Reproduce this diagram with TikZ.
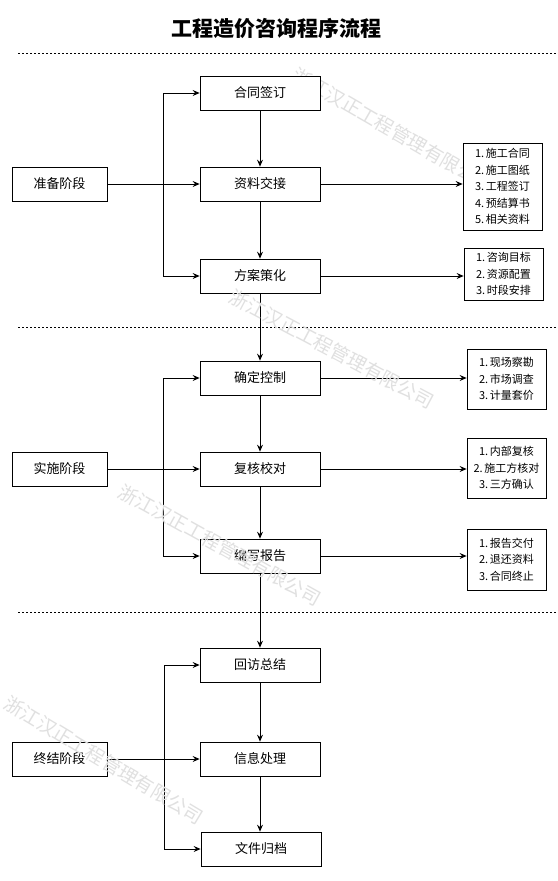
\documentclass[tikz,border=0pt]{standalone}
\usepackage{fontspec}
\setmainfont{Noto Sans CJK SC}
\usetikzlibrary{arrows.meta}
\begin{document}
\begin{tikzpicture}[x=1pt,y=-1pt,
  mainbox/.style={draw,line width=0.8pt,fill=white,minimum width=120pt,minimum height=34pt,inner sep=0pt,font=\fontsize{13}{15}\selectfont},
  stagebox/.style={draw,line width=0.8pt,fill=white,minimum width=95pt,minimum height=34pt,inner sep=0pt,font=\fontsize{13}{15}\selectfont},
  detailbox/.style={draw,line width=0.8pt,fill=white,minimum width=79pt,inner sep=0pt,align=center,font=\fontsize{11}{16.5}\selectfont},
  arr/.style={draw,line width=0.8pt,-{Stealth[length=7pt,width=6pt,inset=2.5pt]}},
  sepline/.style={line width=0.7pt,dash pattern=on 2pt off 2pt},
  wm/.style={text=gray!24,font=\fontsize{19}{19}\selectfont,inner sep=0pt}
]
\useasboundingbox (0,0) rectangle (557,881);
\fill[white] (0,0) rectangle (557,881);

% title
\node[font=\fontsize{21}{24}\selectfont\bfseries] (title) at (276,29) {工程造价咨询程序流程};

% separators
\draw[sepline] (18,53) -- (557,53);
\draw[sepline] (18,327) -- (557,327);
\draw[sepline] (18,612) -- (557,612);

% watermark hidden partly behind the first list box
\node[wm,rotate=-30] (w1) at (393,130) {浙江汉正工程管理有限公司};

% main column
\node[mainbox] (m1) at (260,93) {合同签订};
\node[mainbox] (m2) at (260,184) {资料交接};
\node[mainbox] (m3) at (260,276) {方案策化};
\node[mainbox] (m4) at (260,378) {确定控制};
\node[mainbox] (m5) at (260,469) {复核校对};
\node[mainbox] (m6) at (260,556) {编写报告};
\node[mainbox] (m7) at (260,665) {回访总结};
\node[mainbox] (m8) at (260,759) {信息处理};
\node[mainbox] (m9) at (261,849) {文件归档};

% stage boxes
\node[stagebox] (s1) at (59.5,184) {准备阶段};
\node[stagebox] (s2) at (59.5,469) {实施阶段};
\node[stagebox] (s3) at (59.5,759) {终结阶段};

% detail boxes
\node[detailbox,minimum height=87pt] (d1) at (502.5,186.5) {1.\,施工合同\\2.\,施工图纸\\3.\,工程签订\\4.\,预结算书\\5.\,相关资料};
\node[detailbox,minimum height=52pt] (d2) at (503.5,274) {1.\,咨询目标\\2.\,资源配置\\3.\,时段安排};
\node[detailbox,minimum height=60pt] (d3) at (506.5,379) {1.\,现场察勘\\2.\,市场调查\\3.\,计量套价};
\node[detailbox,minimum height=60pt] (d4) at (506.5,468) {1.\,内部复核\\2.\,施工方核对\\3.\,三方确认};
\node[detailbox,minimum height=61pt] (d5) at (506.5,559.5) {1.\,报告交付\\2.\,退还资料\\3.\,合同终止};

% vertical chain
\draw[arr] (m1) -- (m2);
\draw[arr] (m2) -- (m3);
\draw[arr] (m3.south) -- (m4.north);
\draw[arr] (m4) -- (m5);
\draw[arr] (m5) -- (m6);
\draw[arr] (m6.south) -- (m7.north);
\draw[arr] (m7) -- (m8);
\draw[arr] (m8.south) -- (m8.south |- m9.north);

% stage branches
\coordinate (j1) at (163,184);
\draw[arr] (s1) -- (m2);
\draw[arr] (j1) |- (m1.west);
\draw[arr] (j1) |- (m3.west);

\coordinate (j2) at (163,469);
\draw[arr] (s2) -- (m5);
\draw[arr] (j2) |- (m4.west);
\draw[arr] (j2) |- (m6.west);

\coordinate (j3) at (164,759);
\draw[arr] (s3) -- (m8);
\draw[arr] (j3) |- (m7.west);
\draw[arr] (j3) |- (m9.west);

% detail arrows
\draw[arr] (m2.east) -- (m2.east -| d1.west);
\draw[arr] (m3.east) -- (m3.east -| d2.west);
\draw[arr] (m4.east) -- (m4.east -| d3.west);
\draw[arr] (m5.east) -- (m5.east -| d4.west);
\draw[arr] (m6.east) -- (m6.east -| d5.west);

% watermarks
\node[wm,rotate=-28] (w2) at (332,349) {浙江汉正工程管理有限公司};
\node[wm,rotate=-29] (w3) at (220,545) {浙江汉正工程管理有限公司};
\node[wm,rotate=-31] (w4) at (104,760) {浙江汉正工程管理有限公司};
\end{tikzpicture}
\end{document}
